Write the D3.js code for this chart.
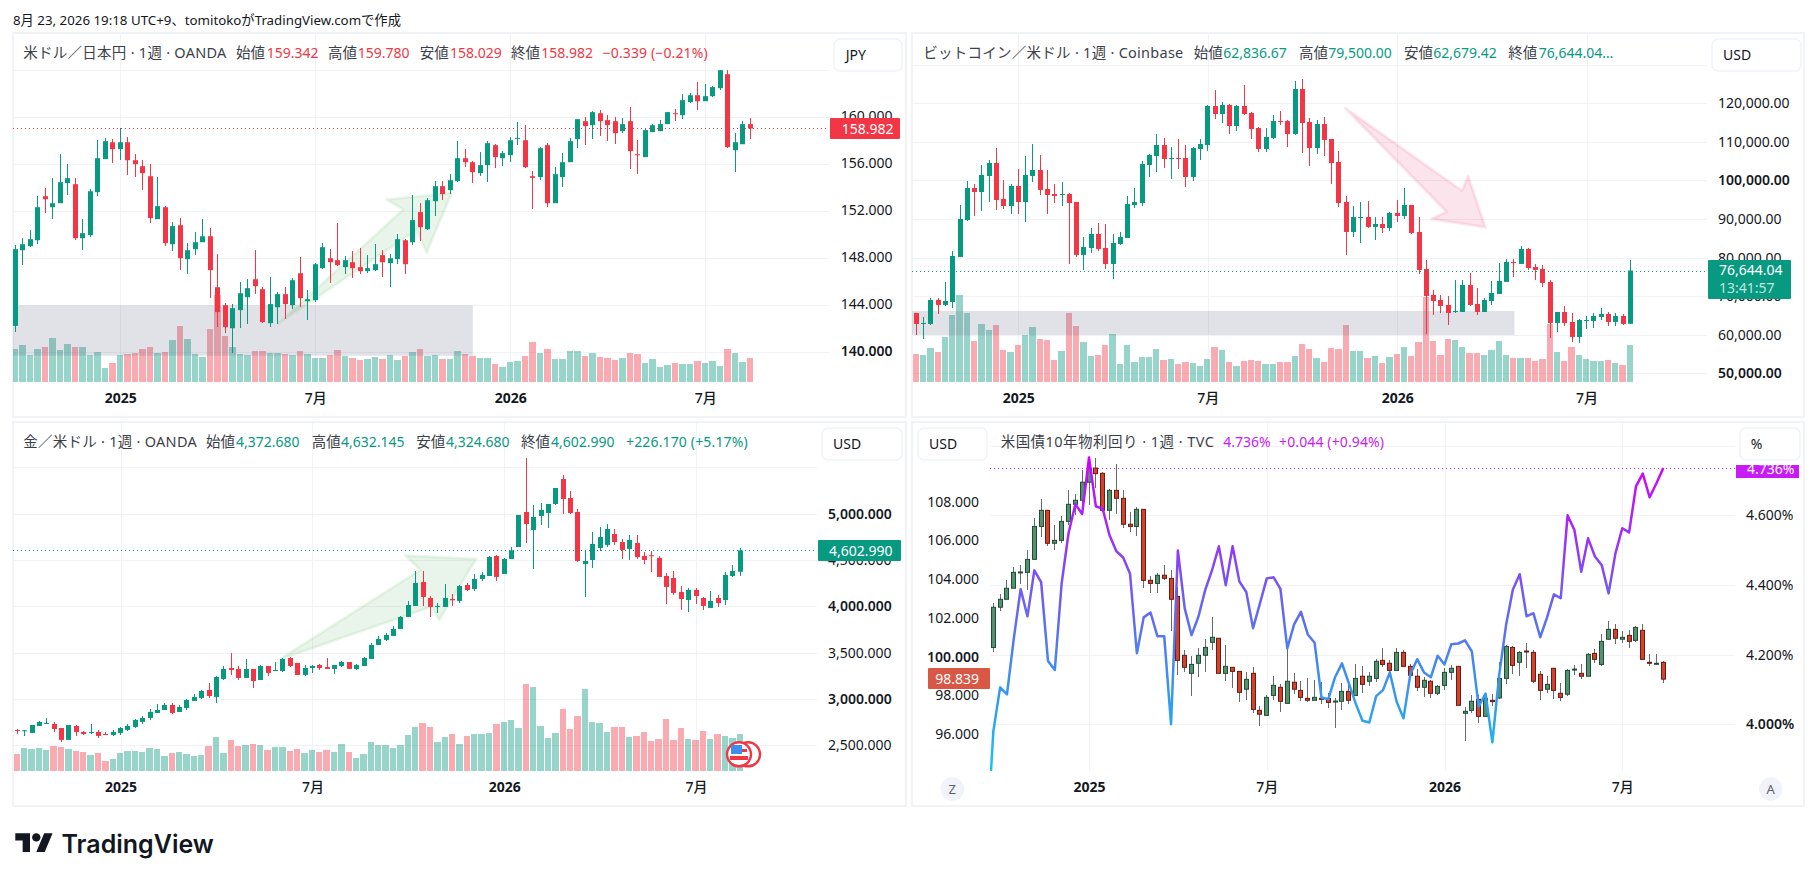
<!DOCTYPE html>
<html>
<head>
<meta charset="utf-8">
<script src="https://cdn.jsdelivr.net/npm/d3@7"></script>
<style>
    body { margin: 0; background: #fff; }
    text { font-family: "Noto Sans", "Noto Sans CJK JP", sans-serif; fill: #131722; }
</style>
</head>
<body>
<script>
// weekly candles, index 0 = first visible week, [open, high, low, close]
var weekTicks = [14, 40, 66, 92];
var weekLabels = ['2025', '7月', '2026', '7月'];

var usdjpyOHLC = [
    [142.18,149.05,141.64,148.71],[148.62,149.64,147.35,149.13],[148.96,150.32,148.88,149.56],[149.47,153.22,149.13,152.28],[153.22,153.90,151.77,152.96],
    [152.28,154.75,151.26,152.62],[152.62,156.79,152.62,154.41],[154.33,155.94,153.30,154.75],[154.24,154.75,149.47,149.64],[149.64,151.26,148.62,150.07],
    [149.90,153.81,149.73,153.64],[153.56,157.98,153.22,156.45],[156.37,158.15,156.37,157.90],[157.81,158.07,156.03,157.22],[157.22,158.98,156.28,157.81],
    [157.81,158.24,155.01,156.28],[156.28,156.79,154.84,155.94],[155.77,156.28,153.73,155.18],[154.92,155.94,150.92,151.35],[151.26,154.84,151.26,152.37],
    [152.28,152.37,148.96,149.22],[149.13,151.01,148.54,150.67],[150.75,151.35,146.92,147.94],[147.86,149.22,146.58,148.62],[148.71,150.15,148.20,149.30],
    [149.30,151.26,149.30,149.81],[149.81,150.49,144.54,146.92],[145.47,148.28,142.07,143.35],[143.94,144.11,141.56,142.07],[141.98,144.03,139.86,143.69],
    [143.52,145.90,141.98,144.96],[144.62,146.15,142.32,145.39],[146.15,148.62,144.88,145.56],[145.30,145.47,142.41,142.50],[142.41,146.32,142.07,144.03],
    [143.77,145.05,142.32,144.88],[144.88,145.47,142.75,144.03],[143.94,146.24,143.60,146.07],[146.66,148.03,143.77,144.54],[144.28,145.22,142.67,144.45],
    [144.37,147.52,144.20,147.43],[147.09,149.22,147.01,148.88],[147.94,148.71,145.81,147.60],[147.77,150.92,147.26,147.35],[147.18,148.11,146.58,147.77],
    [147.60,148.54,146.24,147.09],[147.18,148.79,146.58,146.84],[146.84,148.20,146.67,147.09],[146.92,149.13,146.84,147.43],[148.20,148.62,146.32,147.60],
    [147.52,148.28,145.47,147.94],[147.86,149.98,147.43,149.56],[149.47,149.56,146.58,147.43],[149.30,153.30,149.05,151.18],[151.86,152.62,149.39,150.58],
    [150.41,153.05,150.32,152.88],[152.79,154.50,151.52,154.07],[154.07,154.50,152.88,153.39],[153.73,155.09,153.39,154.58],[154.50,157.90,154.41,156.45],
    [156.45,157.22,155.69,156.11],[156.11,156.20,154.33,155.26],[155.18,156.96,154.92,155.86],[155.86,157.90,154.41,157.73],[157.56,157.64,155.60,156.54],
    [156.45,157.05,155.77,156.88],[156.71,158.24,156.11,157.98],[158.10,159.52,157.56,158.18],[157.98,159.26,155.60,155.69],[154.92,155.35,152.11,154.78],
    [154.84,157.39,154.58,157.30],[157.56,157.73,152.28,152.62],[152.62,155.69,152.62,155.09],[154.84,156.88,153.98,156.11],[156.11,158.15,156.11,157.90],
    [158.07,159.77,157.30,159.77],[159.60,159.94,157.56,159.18],[159.26,160.45,158.07,160.37],[160.28,160.54,158.33,159.60],[159.69,160.11,157.90,159.26],
    [159.60,159.94,157.64,158.58],[158.75,159.86,158.58,159.35],[159.60,160.79,155.52,157.05],[156.79,157.98,155.09,156.71],[156.54,158.92,156.54,158.84],
    [158.67,159.35,158.67,159.26],[158.75,159.69,158.75,159.35],[159.35,160.37,159.35,160.37],[160.28,160.62,159.60,160.20],[160.11,161.90,159.77,161.39],
    [161.22,161.98,161.13,161.81],[161.81,162.92,160.54,161.30],[161.30,162.75,161.30,161.73],[161.73,162.58,161.64,162.50],[162.41,164.00,162.24,163.94],
    [163.60,164.00,157.30,157.39],[157.13,158.58,155.26,157.81],[157.64,159.60,157.64,159.35],[159.35,159.86,158.07,158.98]
];
var usdjpyVolume = [
    33,37,27,33,35,44,32,38,35,35,27,30,14,19,27,28,29,33,35,29,
    30,42,56,43,28,25,53,87,46,35,28,27,31,31,29,29,28,27,31,28,
    24,24,27,32,26,24,22,23,25,23,27,22,26,30,33,26,27,23,23,31,
    28,26,24,24,18,15,20,21,26,40,29,33,23,23,31,31,26,29,25,24,
    22,24,29,28,19,23,15,17,19,18,18,21,19,21,16,33,29,20,24
];

var btcOHLC = [
    [65640,65640,59940,62790],[62790,64610,58900,63050],[62790,69530,62530,69010],[69010,69530,65380,67720],[67720,73680,67460,68750],
    [68490,81710,66940,80420],[80160,93630,80160,90000],[89750,99850,89490,98040],[98040,99080,90780,97000],[97000,104000,92080,101410],
    [101150,105300,94410,104520],[104520,108410,92340,94930],[95190,100110,92600,93370],[93370,99080,91300,98560],[98560,102960,91300,94410],
    [94410,106330,89230,101410],[101150,109440,99600,102710],[102710,106590,96220,97520],[97780,102710,91300,96220],[96480,99080,94150,95970],
    [96220,99600,93370,96480],[96480,96740,78340,94150],[94410,94410,80160,80680],[80680,85340,76790,82750],[82490,87670,81190,86120],
    [86120,88970,81710,82230],[82490,88710,77050,78340],[78340,86120,74460,83790],[83530,86640,83270,85340],[85080,95970,85080,93890],
    [93630,98040,92860,94410],[94150,105040,93370,104260],[104000,106850,100890,106590],[106330,112030,102190,109180],[109180,111000,103220,105560],
    [105560,108670,100370,105810],[105810,110740,102960,105560],[105810,109180,98300,100890],[100890,108670,99850,108410],[108150,110740,105300,109440],
    [109180,119550,107630,119290],[119290,123440,115920,117220],[117220,120330,114880,119550],[119550,119810,112030,114110],[114110,119550,112810,119290],
    [119290,124730,116960,117220],[117480,117740,110740,113330],[113590,113850,107370,108150],[108150,113590,107370,111260],[111000,116960,110740,115400],
    [115400,117990,114370,115140],[115400,115660,108670,112030],[112030,125770,111770,123700],[123700,126290,107110,114880],[115140,116180,103740,108410],
    [108410,115660,106850,114630],[114630,116440,106330,110480],[110740,110740,99080,104520],[104780,107630,93120,94150],[94410,95970,80680,86640],
    [86640,93370,85340,90520],[90260,94410,83790,90520],[90520,94670,87670,87930],[87930,90520,84560,88710],[88710,90520,86380,87670],
    [87670,91820,86900,91560],[91560,94930,89230,90780],[90780,98040,90000,93630],[93630,93630,86120,86380],[86640,90520,75750,76790],
    [77050,79380,60200,70050],[70310,71600,65130,68750],[69010,70310,65640,67460],[67720,70050,62530,65640],[65900,74200,65640,66160],
    [65900,74200,65900,72900],[72900,76010,67460,67720],[67980,72120,65130,65900],[65900,69530,65900,69010],[68750,73940,67720,70830],
    [70570,78600,70570,73940],[73680,79640,73680,78860],[78860,79640,74970,78600],[78340,82990,78340,82230],[82230,82490,76790,77300],
    [77560,78340,74200,76790],[77050,78080,72380,73420],[73680,74200,59160,63050],[63050,65900,60720,65900],[65900,67460,62270,63050],
    [63310,65640,58130,59420],[59420,64090,57870,63830],[63570,64870,61500,63830],[63570,65640,61750,64870],[64610,66940,63830,65380],
    [65380,65900,62270,63310],[63310,65640,62270,64870],[64870,65380,62530,62790],[62837,79500,62679,76644]
];
var btcVolume = [
    28,27,34,30,45,67,87,69,41,58,52,57,32,30,37,47,55,43,42,22,
    31,69,56,40,26,27,37,48,18,37,20,25,25,33,22,23,18,20,19,16,
    23,35,32,20,16,21,22,21,18,18,20,20,26,38,33,24,20,34,33,57,
    31,31,24,26,19,25,28,35,26,40,85,41,27,43,42,35,29,29,27,32,
    41,27,24,24,24,21,23,58,30,21,35,27,23,21,21,22,19,17,37
];

var goldOHLC = [
    [2666,2676,2622,2655],[2651,2666,2601,2662],[2633,2719,2633,2719],[2709,2763,2709,2752],[2730,2795,2730,2741],
    [2730,2752,2644,2676],[2687,2687,2536,2558],[2558,2719,2558,2719],[2709,2719,2601,2644],[2644,2655,2612,2622],
    [2633,2730,2622,2644],[2644,2666,2579,2601],[2622,2644,2612,2612],[2612,2666,2601,2644],[2633,2698,2612,2687],
    [2666,2730,2655,2709],[2698,2784,2687,2774],[2752,2817,2730,2795],[2795,2892,2774,2860],[2849,2946,2849,2881],
    [2881,2957,2881,2935],[2935,2957,2838,2849],[2860,2935,2860,2914],[2903,2999,2881,2989],[2979,3054,2979,3022],
    [3011,3097,2999,3086],[3097,3173,3011,3032],[3022,3248,2957,3237],[3216,3356,3205,3324],[3334,3496,3259,3313],
    [3324,3356,3205,3227],[3227,3432,3227,3324],[3324,3324,3119,3194],[3205,3367,3205,3356],[3356,3356,3248,3281],
    [3302,3399,3302,3313],[3302,3442,3291,3432],[3442,3453,3345,3356],[3388,3388,3259,3259],[3259,3367,3248,3334],
    [3334,3367,3281,3356],[3367,3378,3313,3334],[3345,3442,3324,3324],[3324,3367,3270,3367],[3356,3410,3345,3399],
    [3399,3399,3324,3324],[3324,3378,3313,3367],[3356,3453,3356,3442],[3432,3604,3432,3583],[3583,3680,3583,3648],
    [3637,3712,3626,3691],[3680,3788,3680,3755],[3755,3896,3755,3885],[3885,4058,3885,4014],[4004,4381,4004,4252],
    [4263,4381,4004,4101],[4090,4112,3885,3993],[3993,4036,3928,4004],[3993,4241,3993,4090],[4079,4133,4004,4065],
    [4058,4230,4036,4219],[4230,4252,4165,4176],[4187,4349,4165,4295],[4295,4371,4273,4338],[4327,4543,4327,4532],
    [4543,4554,4273,4317],[4349,4522,4349,4511],[4511,4640,4511,4604],[4640,4986,4640,4986],[5018,5601,4683,4888],
    [4824,5094,4403,4964],[4975,5115,4878,5040],[5007,5104,4845,5104],[5104,5277,5094,5277],[5374,5417,4996,5158],
    [5169,5245,4996,5007],[5018,5050,4478,4489],[4457,4608,4101,4489],[4500,4802,4414,4673],[4629,4856,4597,4748],
    [4662,4888,4640,4834],[4780,4834,4662,4694],[4694,4727,4511,4608],[4619,4770,4500,4716],[4683,4770,4511,4532],
    [4543,4586,4457,4500],[4550,4597,4370,4540],[4522,4543,4317,4317],[4327,4360,4025,4209],[4306,4381,4122,4144],
    [4155,4219,3960,4079],[4068,4198,3939,4176],[4176,4198,4025,4111],[4090,4101,3960,4004],[3982,4165,3982,4058],
    [4090,4122,3993,4036],[4068,4371,4014,4338],[4327,4446,4317,4381],[4373,4632,4325,4603]
];
var goldVolume = [
    17,23,22,23,21,25,24,22,20,19,16,18,10,12,18,20,20,19,23,22,
    15,18,19,17,15,16,25,34,18,31,25,26,27,26,21,24,24,20,22,18,
    21,19,21,19,27,19,13,17,29,26,26,23,26,36,44,48,44,29,34,37,
    27,35,37,37,38,47,49,51,43,87,84,45,33,38,62,42,55,82,49,48,
    39,44,44,34,35,39,30,32,52,31,43,32,31,40,32,37,35,33,37
];

var dxyOHLC = [
    [100.47,102.77,100.24,102.55],[102.55,103.23,102.36,102.96],[102.96,103.96,102.96,103.53],[103.53,104.63,103.53,104.35],[104.33,104.73,103.75,104.37],
    [104.35,105.50,103.44,105.02],[105.02,107.15,105.02,106.72],[106.72,108.13,106.17,107.55],[107.55,107.55,105.71,105.85],[105.85,106.79,105.50,106.00],
    [106.00,107.26,105.86,106.98],[106.98,108.60,106.79,107.86],[107.86,108.39,107.31,108.07],[108.07,109.63,107.83,109.00],[109.00,110.32,107.83,109.72],
    [109.73,110.25,108.72,109.44],[109.46,109.51,107.48,107.55],[107.55,108.65,107.07,108.58],[108.58,109.92,107.38,108.17],[108.17,108.58,106.66,106.83],
    [106.83,107.45,106.45,106.72],[106.72,107.70,106.24,107.60],[107.60,107.60,103.56,103.94],[103.94,104.14,103.30,103.78],[103.78,104.30,103.30,104.20],
    [104.20,104.73,103.94,104.04],[104.04,104.45,101.32,102.96],[103.11,103.58,99.05,99.81],[100.07,100.34,99.19,99.45],[99.14,100.01,97.99,99.60],
    [99.66,100.43,98.97,100.07],[100.07,100.91,99.23,100.48],[100.74,102.05,100.34,101.00],[100.95,100.95,99.14,99.14],[99.14,100.60,98.76,99.50],
    [99.45,99.45,98.37,99.24],[99.24,99.24,97.68,98.16],[98.32,99.19,97.78,98.83],[99.14,99.45,97.08,97.28],[97.23,97.47,96.44,97.03],
    [96.97,98.00,96.97,97.90],[98.00,98.99,97.75,98.52],[98.42,98.57,97.16,97.70],[97.59,100.38,97.59,98.73],[98.68,99.14,98.06,98.32],
    [98.26,98.73,97.70,97.90],[97.85,98.88,97.64,97.75],[97.75,98.78,97.75,97.90],[97.85,98.68,97.54,97.80],[97.85,98.11,97.33,97.64],
    [97.68,97.85,96.30,97.71],[97.70,98.62,97.27,98.21],[98.21,98.73,97.54,97.75],[98.00,99.64,98.00,98.88],[98.99,99.50,98.11,98.57],
    [98.73,99.19,98.47,98.99],[98.88,99.86,98.68,99.76],[99.81,100.43,99.45,99.60],[99.66,99.81,99.14,99.29],[99.29,100.43,99.29,100.22],
    [100.22,100.33,99.45,99.50],[99.50,99.60,99.04,99.04],[98.99,99.35,98.21,98.42],[98.42,98.93,97.94,98.78],[98.73,98.78,97.85,98.11],
    [98.11,98.52,98.00,98.47],[98.52,99.40,98.26,99.19],[99.19,99.55,98.78,99.40],[99.50,99.50,97.49,97.49],[97.08,97.39,95.63,97.18],
    [97.23,98.00,97.08,97.70],[97.80,98.00,96.56,96.92],[96.92,97.85,96.92,97.85],[97.75,98.06,97.44,97.68],[97.87,99.71,97.82,98.88],
    [98.88,100.58,98.57,100.53],[100.48,100.53,99.09,99.55],[99.71,100.28,98.99,100.22],[100.29,100.69,99.40,100.24],[100.22,100.33,98.62,98.73],
    [99.09,99.24,97.75,98.26],[98.32,98.99,98.11,98.57],[99.40,99.40,97.80,98.26],[98.11,98.62,97.70,97.90],[98.06,99.35,97.95,99.29],
    [99.33,99.55,99.04,99.36],[99.14,99.60,98.83,98.99],[98.99,100.17,98.99,100.12],[100.17,100.38,99.66,99.86],[99.60,101.15,99.50,100.79],
    [100.90,101.82,100.84,101.41],[101.41,101.67,100.64,100.95],[100.90,101.31,100.69,101.00],[101.10,101.36,100.43,100.79],[100.84,101.57,100.74,101.51],
    [101.36,101.67,99.81,99.86],[99.71,100.12,99.50,99.66],[99.62,100.12,99.55,99.66],[99.71,99.76,98.62,98.84]
];

// US 10y yield closes, the week before index 0 sits under the left axis
var yieldPrevWeek = 3.64;
var yield10y = [
    3.979,4.106,4.086,4.247,4.388,4.310,4.442,4.408,4.182,4.156,
    4.405,4.548,4.632,4.604,4.766,4.626,4.619,4.543,4.497,4.479,
    4.432,4.204,4.307,4.321,4.253,4.253,4.000,4.499,4.333,4.256,
    4.309,4.386,4.443,4.511,4.399,4.511,4.410,4.380,4.276,4.347,
    4.419,4.422,4.389,4.218,4.287,4.323,4.258,4.234,4.077,4.072,
    4.136,4.175,4.118,4.060,4.010,4.005,4.081,4.098,4.149,4.065,
    4.017,4.144,4.187,4.149,4.135,4.197,4.172,4.230,4.232,4.241,
    4.209,4.051,4.088,3.948,4.142,4.285,4.387,4.431,4.310,4.319,
    4.250,4.307,4.373,4.362,4.600,4.558,4.438,4.534,4.482,4.457,
    4.376,4.491,4.563,4.551,4.683,4.720,4.652,4.692,4.736
];

// drawings on the charts, [week index, price]
var usdjpyArrow = [[35.07,142.38],[51.73,152.08],[49.5,152.93],[58.2,153.5],[54.85,148.42],[53.5,150.33]];
var btcArrow = [[58.9,118690],[74.9,97350],[75.74,101150],[78.1,87850],[70.7,90000],[72.76,91900]];
var goldArrow = [[35.4,3421],[54.6,4392],[52.6,4547],[62.2,4511],[57.2,3852],[56.2,3996]];

var red = '#f23645';
var green = '#089981';
var purple = '#c81bf5';
var gridColor = '#f1f2f5';

var canvas = d3.select('body')
    .append('svg')
    .attr('width', 1818)
    .attr('height', 881)

var defs = canvas.append('defs')

var grad = defs.append('linearGradient')
    .attr('id', 'yieldGrad')
    .attr('gradientUnits', 'userSpaceOnUse')
    .attr('x1', 0).attr('x2', 0)
    .attr('y1', 460).attr('y2', 771)
grad.selectAll('stop')
    .data([[0, '#d400ff'], [0.22, '#a32af8'], [0.42, '#715af2'], [0.68, '#3e8df0'], [0.85, '#2ba6f0'], [1, '#10c8f5']])
    .enter()
    .append('stop')
    .attr('offset', function (d) { return d[0]; })
    .attr('stop-color', function (d) { return d[1]; })

canvas.append('text')
    .text('8月 23, 2026 19:18 UTC+9、tomitokoがTradingView.comで作成')
    .attr('x', 13)
    .attr('y', 25)
    .style('font-size', '13.3px')

function drawPanel(p) {
    var g = canvas.append('g')

    g.append('rect')
        .attr('x', p.box[0]).attr('y', p.box[1])
        .attr('width', p.box[2] - p.box[0]).attr('height', p.box[3] - p.box[1])
        .attr('fill', '#fff')
        .attr('stroke', '#f2f3f6')
        .attr('stroke-width', 2)

    var x = d3.scaleLinear().domain([0, 98]).range(p.xRange)
    var y = d3.scaleLinear().domain(p.yDomain).range(p.yRange)
    var step = x(1) - x(0)

    // grid
    var gridH = g.append('g')
        .attr('transform', 'translate(' + p.plot[1] + ',0)')
        .call(d3.axisLeft(y).tickValues(p.grid).tickSize(p.plot[1] - p.plot[0]).tickFormat(''))
    gridH.select('.domain').remove()
    gridH.selectAll('line').attr('stroke', gridColor).attr('shape-rendering', 'crispEdges')

    var gridV = g.append('g')
        .attr('transform', 'translate(0,' + (p.box[1] + 1) + ')')
        .call(d3.axisBottom(x).tickValues(weekTicks).tickSize(p.base - p.box[1] - 1).tickFormat(''))
    gridV.select('.domain').remove()
    gridV.selectAll('line').attr('stroke', gridColor).attr('shape-rendering', 'crispEdges')

    // volume
    if (p.volume) {
        var v = d3.scaleLinear().domain([0, 100]).range([p.base, p.base - 100])
        g.selectAll('.vol')
            .data(p.volume)
            .enter()
            .append('rect')
            .attr('class', 'vol')
            .attr('x', function (d, i) { return Math.max(p.plot[0], Math.round(x(i) - step / 2)); })
            .attr('y', function (d) { return v(d); })
            .attr('width', function (d, i) {
                return Math.round(x(i) + step / 2) - Math.max(p.plot[0], Math.round(x(i) - step / 2)) - 1;
            })
            .attr('height', function (d) { return p.base - v(d); })
            .attr('fill', function (d, i) { return p.ohlc[i][3] >= p.ohlc[i][0] ? green : red; })
            .attr('fill-opacity', 0.42)
            .attr('shape-rendering', 'crispEdges')
    }

    // price zone
    if (p.zone) {
        g.append('rect')
            .attr('x', p.plot[0])
            .attr('y', y(p.zone[1]))
            .attr('width', x(p.zone[2]) - p.plot[0])
            .attr('height', y(p.zone[0]) - y(p.zone[1]))
            .attr('fill', '#6b6f8a')
            .attr('fill-opacity', 0.2)
    }

    // arrow
    if (p.arrow) {
        g.append('path')
            .attr('d', d3.line()
                .x(function (d) { return x(d[0]); })
                .y(function (d) { return y(d[1]); })
                .curve(d3.curveLinearClosed)(p.arrow))
            .attr('fill', p.arrowColor)
            .attr('fill-opacity', 0.12)
            .attr('stroke', p.arrowColor)
            .attr('stroke-opacity', 0.1)
            .attr('stroke-width', 3)
            .attr('stroke-linejoin', 'round')
    }

    // wicks and bodies
    var s = p.candle || {};
    g.selectAll('.wick')
        .data(p.ohlc)
        .enter()
        .append('rect')
        .attr('class', 'wick')
        .attr('x', function (d, i) { return Math.round(x(i) - 0.5); })
        .attr('y', function (d) { return y(d[1]); })
        .attr('width', 1)
        .attr('height', function (d) { return y(d[2]) - y(d[1]); })
        .attr('fill', function (d) { return s.wick || (d[3] >= d[0] ? green : red); })
        .attr('shape-rendering', 'crispEdges')

    g.selectAll('.body')
        .data(p.ohlc)
        .enter()
        .append('rect')
        .attr('class', 'body')
        .attr('x', function (d, i) { return Math.round(x(i) - p.bodyW / 2) + (s.wick ? 0.5 : 0); })
        .attr('y', function (d) { return y(Math.max(d[0], d[3])); })
        .attr('width', p.bodyW - (s.wick ? 1 : 0))
        .attr('height', function (d) { return Math.max(1, Math.abs(y(d[0]) - y(d[3]))); })
        .attr('fill', function (d) { return d[3] >= d[0] ? (s.up || green) : (s.down || red); })
        .attr('stroke', function (d) { return s.wick ? (d[3] >= d[0] ? s.upEdge : s.downEdge) : 'none'; })

    // last price line
    var lastY = Math.round((p.lineScale || y)(p.last)) + 0.5
    g.append('line')
        .attr('x1', p.plot[0]).attr('x2', p.plot[1])
        .attr('y1', lastY).attr('y2', lastY)
        .attr('stroke', p.lastColor)
        .attr('stroke-dasharray', '1 3')

    if (p.after) p.after(g, x, y)

    // time axis
    var axisB = d3.axisBottom(x)
        .tickValues(weekTicks)
        .tickSize(0)
        .tickPadding(11)
        .tickFormat(function (d, i) { return weekLabels[i]; })
    var gx = g.append('g')
        .attr('transform', 'translate(0,' + p.base + ')')
        .call(axisB)
    gx.select('.domain').remove()
    gx.selectAll('text')
        .style('font-family', '"Noto Sans", "Noto Sans CJK JP", sans-serif')
        .style('font-size', '14px')
        .style('font-weight', function (d, i) { return i % 2 == 0 ? 700 : 500; })

    // price axis
    if (p.ticks) {
        var axisP = d3.axisRight(y)
            .tickValues(p.ticks)
            .tickSize(0)
            .tickPadding(0)
            .tickFormat(p.fmt)
        var gy = g.append('g')
            .attr('transform', 'translate(' + p.axisX + ',0)')
            .call(axisP)
        gy.select('.domain').remove()
        gy.selectAll('text')
            .style('font-family', '"Noto Sans", sans-serif')
            .style('font-size', '14px')
            .style('font-weight', function (d) { return p.strong.indexOf(d) >= 0 ? 600 : 400; })
    }

    drawButton(p.button[0], p.button[1], p.button[2], p.button[3], p.unit)
    drawLegend(p.legend, p.legendY)
}

function drawButton(x0, x1, y0, textX, label) {
    canvas.append('rect')
        .attr('x', x0).attr('y', y0)
        .attr('width', x1 - x0).attr('height', 32)
        .attr('rx', 6)
        .attr('fill', '#fff')
        .attr('stroke', '#f0f3fa')
        .attr('stroke-width', 1.5)
    canvas.append('text')
        .text(label)
        .attr('x', textX)
        .attr('y', y0 + 21)
        .style('font-size', '14px')
}

// parts: [text, colour, x, width of the part in the reference layout if fixed]
function drawLegend(parts, yPos) {
    canvas.selectAll(null)
        .data(parts)
        .enter()
        .append('text')
        .text(function (d) { return d[0]; })
        .attr('x', function (d) { return d[2]; })
        .attr('y', yPos)
        .attr('textLength', function (d) { return d[3] || null; })
        .style('font-size', function (d) { return d[1] == legendText ? '14.5px' : '14px'; })
        .style('fill', function (d) { return d[1]; })
}

function priceTag(x0, x1, y0, y1, color, lines, anchorX, anchor) {
    canvas.append('rect')
        .attr('x', x0).attr('y', y0)
        .attr('width', x1 - x0).attr('height', y1 - y0)
        .attr('rx', 1)
        .attr('fill', color)
    lines.forEach(function (l) {
        canvas.append('text')
            .text(l[0])
            .attr('x', anchorX)
            .attr('y', l[1])
            .attr('text-anchor', anchor || 'start')
            .attr('fill-opacity', l[2] || 1)
            .style('fill', '#fff')
            .style('font-size', '14px')
    })
}

var legendText = '#3c3f4a';

// 米ドル／日本円
drawPanel({
    box: [13, 33, 906, 417],
    plot: [13, 829],
    xRange: [15.3, 750.3],
    yDomain: [140, 164],
    yRange: [351.5, 69.5],
    base: 382,
    ohlc: usdjpyOHLC,
    volume: usdjpyVolume,
    bodyW: 5,
    grid: [140, 144, 148, 152, 156, 160, 164],
    ticks: [140, 144, 148, 152, 156, 160],
    strong: [140],
    fmt: d3.format('.3f'),
    axisX: 840.7,
    zone: [139.64, 143.94, 61],
    arrow: usdjpyArrow,
    arrowColor: '#4caf50',
    last: 158.982,
    lastColor: red,
    unit: 'JPY',
    button: [834, 902, 39, 845.7],
    legendY: 58,
    legend: [
        ['米ドル／日本円 · 1週 · OANDA', legendText, 23.3, 203],
        ['始値', legendText, 236], ['159.342', red, 266.7],
        ['高値', legendText, 328], ['159.780', red, 357.7],
        ['安値', legendText, 419.7], ['158.029', red, 450],
        ['終値', legendText, 511], ['158.982', red, 541.3],
        ['−0.339 (−0.21%)', red, 602.7, 105]
    ]
})
priceTag(830, 900, 118, 139, red, [['158.982', 134]], 841.7)

// ビットコイン／米ドル
drawPanel({
    box: [912, 33, 1804, 417],
    plot: [912, 1707],
    xRange: [916.3, 1630.3],
    yDomain: [50000, 130000],
    yRange: [373.3, 64.7],
    base: 382,
    ohlc: btcOHLC,
    volume: btcVolume,
    bodyW: 5,
    grid: [50000, 60000, 70000, 80000, 90000, 100000, 110000, 120000, 130000],
    ticks: [50000, 60000, 70000, 80000, 90000, 100000, 110000, 120000],
    strong: [50000, 100000],
    fmt: d3.format(',.2f'),
    axisX: 1718,
    zone: [59940, 66160, 82.1],
    arrow: btcArrow,
    arrowColor: '#e91e63',
    last: 76644.04,
    lastColor: green,
    unit: 'USD',
    button: [1712, 1801, 39, 1723],
    legendY: 58,
    legend: [
        ['ビットコイン／米ドル · 1週 · Coinbase', legendText, 923.3, 260],
        ['始値', legendText, 1193.7], ['62,836.67', green, 1223.3],
        ['高値', legendText, 1299], ['79,500.00', green, 1328.3],
        ['安値', legendText, 1404], ['62,679.42', green, 1433.3],
        ['終値', legendText, 1508.3], ['76,644.04…', green, 1538.7]
    ]
})
priceTag(1708, 1791, 260, 299, green, [['76,644.04', 275], ['13:41:57', 293, 0.75]], 1719)

// 金／米ドル
drawPanel({
    box: [13, 422, 906, 806],
    plot: [13, 817],
    xRange: [17.3, 740.3],
    yDomain: [2500, 5500],
    yRange: [745.3, 467.3],
    base: 771,
    ohlc: goldOHLC,
    volume: goldVolume,
    bodyW: 5,
    grid: [2500, 3000, 3500, 4000, 4500, 5000, 5500],
    ticks: [2500, 3000, 3500, 4000, 4500, 5000],
    strong: [3000, 4000, 5000],
    fmt: d3.format(',.3f'),
    axisX: 828,
    arrow: goldArrow,
    arrowColor: '#4caf50',
    last: 4602.99,
    lastColor: green,
    unit: 'USD',
    button: [822, 902, 428, 833],
    legendY: 447,
    legend: [
        ['金／米ドル · 1週 · OANDA', legendText, 23.3, 173.4],
        ['始値', legendText, 206], ['4,372.680', green, 236],
        ['高値', legendText, 311.7], ['4,632.145', green, 341],
        ['安値', legendText, 416.3], ['4,324.680', green, 446],
        ['終値', legendText, 521], ['4,602.990', green, 551],
        ['+226.170 (+5.17%)', green, 626, 121.7]
    ],
    after: function (g) {
        // earnings flag
        [748, 739].forEach(function (cx) {
            g.append('circle')
                .attr('cx', cx).attr('cy', 754.3).attr('r', 12)
                .attr('fill', '#fff').attr('stroke', red).attr('stroke-width', 2.4)
        })
        g.append('rect').attr('x', 732).attr('y', 749).attr('width', 15).attr('height', 3).attr('fill', red)
        g.append('rect').attr('x', 730).attr('y', 756).attr('width', 18).attr('height', 4).attr('fill', red)
        g.append('rect').attr('x', 731).attr('y', 745).attr('width', 11).attr('height', 9).attr('fill', '#3d8ef0')
    }
})
priceTag(818, 901, 540, 561, green, [['4,602.990', 555.5]], 829)

// 米国債10年物利回り + DXY on the left scale
var yieldScale = d3.scaleLinear().domain([4.0, 4.8]).range([724.3, 445.7])

drawPanel({
    box: [912, 422, 1804, 806],
    plot: [990, 1735],
    xRange: [993.3, 1663.3],
    yDomain: [96, 108],
    yRange: [734.2, 501.6],
    base: 771,
    ohlc: dxyOHLC,
    bodyW: 5,
    candle: { wick: '#666a6e', up: '#53916f', down: '#d1422f', upEdge: '#1f4d35', downEdge: '#6d1a10' },
    grid: [],
    last: 4.736,
    lineScale: yieldScale,
    lastColor: purple,
    unit: 'USD',
    button: [918, 987, 428, 929],
    legendY: 447,
    legend: [
        ['米国債10年物利回り · 1週 · TVC', legendText, 1000.7, 213.3],
        ['4.736%', purple, 1223.3],
        ['+0.044 (+0.94%)', purple, 1279, 105]
    ],
    after: function (g, x, y) {
        var gridY = g.insert('g', '.wick')
            .attr('transform', 'translate(1735,0)')
            .call(d3.axisLeft(yieldScale).tickValues([4.0, 4.2, 4.4, 4.6, 4.8]).tickSize(745).tickFormat(''))
        gridY.select('.domain').remove()
        gridY.selectAll('line').attr('stroke', gridColor).attr('shape-rendering', 'crispEdges')

        defs.append('clipPath')
            .attr('id', 'plotClip')
            .append('rect')
            .attr('x', 990).attr('y', 423)
            .attr('width', 745).attr('height', 348)

        var yieldLine = d3.line()
            .x(function (d, i) { return x(i - 1); })
            .y(function (d) { return yieldScale(d); })

        g.append('path')
            .attr('d', yieldLine([yieldPrevWeek].concat(yield10y)))
            .attr('clip-path', 'url(#plotClip)')
            .attr('fill', 'none')
            .attr('stroke', 'url(#yieldGrad)')
            .attr('stroke-width', 2.5)
            .attr('stroke-linejoin', 'round')

        // left scale for the index, right scale for the yield
        var gl = g.append('g')
            .attr('transform', 'translate(979,0)')
            .call(d3.axisLeft(y).tickValues([96, 98, 100, 102, 104, 106, 108]).tickSize(0).tickPadding(0).tickFormat(d3.format('.3f')))
        gl.select('.domain').remove()
        gl.selectAll('text')
            .style('font-family', '"Noto Sans", sans-serif')
            .style('font-size', '14px')
            .style('font-weight', function (d) { return d == 100 ? 600 : 400; })

        var gr = g.append('g')
            .attr('transform', 'translate(1746,0)')
            .call(d3.axisRight(yieldScale).tickValues([4.0, 4.2, 4.4, 4.6]).tickSize(0).tickPadding(0).tickFormat(function (d) { return d.toFixed(3) + '%'; }))
        gr.select('.domain').remove()
        gr.selectAll('text')
            .style('font-family', '"Noto Sans", sans-serif')
            .style('font-size', '14px')
            .style('font-weight', function (d) { return d == 4.0 ? 600 : 400; })
    }
})
priceTag(928, 990, 668, 689, '#d95745', [['98.839', 683.5]], 979, 'end')

// the yield tag is cut off at the top by the pane edge
defs.append('clipPath')
    .attr('id', 'tagClip')
    .append('rect')
    .attr('x', 1736).attr('y', 465)
    .attr('width', 64).attr('height', 13)
canvas.append('rect')
    .attr('x', 1736).attr('y', 465)
    .attr('width', 63).attr('height', 13)
    .attr('fill', purple)
canvas.append('text')
    .text('4.736%')
    .attr('x', 1747)
    .attr('y', 473.5)
    .attr('clip-path', 'url(#tagClip)')
    .style('fill', '#fff')
    .style('font-size', '14px')
drawButton(1740, 1800, 428, 1750.7, '%')

// corner buttons
var corners = [[952.3, 'Z'], [1770.7, 'A']];
corners.forEach(function (c) {
    canvas.append('circle')
        .attr('cx', c[0]).attr('cy', 789).attr('r', 11.7)
        .attr('fill', '#f0f3fa')
    canvas.append('text')
        .text(c[1])
        .attr('x', c[0]).attr('y', 794)
        .attr('text-anchor', 'middle')
        .style('fill', '#5d606b')
        .style('font-size', '13px')
})

// logo
var logo = canvas.append('g')
    .attr('transform', 'translate(15.3,829) scale(1.05)')
logo.append('path')
    .attr('d', 'M14 22H7V11H0V4h14v18zM28 22h-8l7.5-18h8L28 22z')
    .attr('fill', '#131722')
logo.append('circle')
    .attr('cx', 20).attr('cy', 8).attr('r', 4)
    .attr('fill', '#131722')
canvas.append('text')
    .text('TradingView')
    .attr('x', 61.5)
    .attr('y', 853)
    .style('font-family', 'Inter, sans-serif')
    .style('font-weight', 600)
    .style('font-size', '25px')
</script>
</body>
</html>
